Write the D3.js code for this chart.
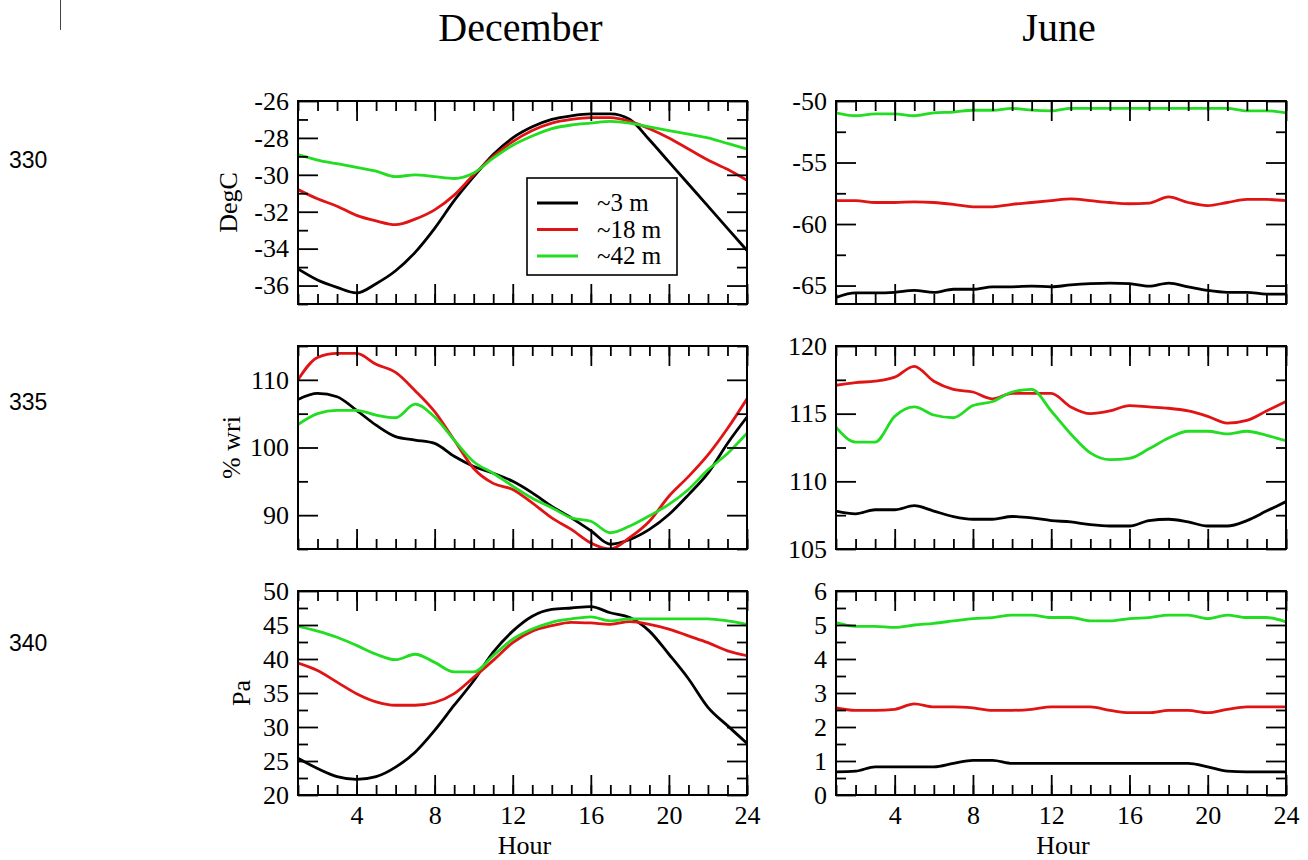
<!DOCTYPE html>
<html><head><meta charset="utf-8">
<script src="https://cdn.jsdelivr.net/npm/d3@7"></script>
<style>
html,body{margin:0;padding:0;background:#fff;}
svg{display:block;}
svg text{font-family:'Liberation Serif','Times New Roman',serif;}
</style></head><body>
<svg id="chart" width="1308" height="860"></svg>
<script>
// ---------------- DATA ----------------
const hours = [1,2,3,4,5,6,7,8,9,10,11,12,13,14,15,16,17,18,19,20,21,22,23,24];
const hourTicks = [4,8,12,16,20,24];
const seriesNames = ["~3 m", "~18 m", "~42 m"];
const columnTitles = ["December", "June"];
const rowLabels = ["DegC", "% wri", "Pa"];
const marginNumbers = ["330", "335", "340"];

// December temperature (DegC)
const decTemp3  = [-35.1,-35.7,-36.1,-36.4,-35.9,-35.2,-34.2,-32.9,-31.4,-30.1,-28.9,-28.0,-27.4,-27.0,-26.8,-26.7,-26.7,-27.0,-28.1,-29.3,-30.5,-31.7,-32.9,-34.1];
const decTemp18 = [-30.8,-31.3,-31.7,-32.2,-32.5,-32.7,-32.4,-31.9,-31.1,-30.0,-29.0,-28.2,-27.6,-27.2,-27.0,-26.9,-26.9,-27.1,-27.5,-28.0,-28.6,-29.2,-29.7,-30.3];
const decTemp42 = [-28.9,-29.2,-29.4,-29.6,-29.8,-30.1,-30.0,-30.1,-30.2,-29.9,-29.1,-28.4,-27.9,-27.5,-27.3,-27.2,-27.1,-27.2,-27.4,-27.6,-27.8,-28.0,-28.3,-28.6];
// June temperature (DegC)
const junTemp3  = [-65.96,-65.6,-65.6,-65.55,-65.4,-65.55,-65.3,-65.3,-65.1,-65.1,-65.05,-65.1,-64.95,-64.85,-64.8,-64.85,-65.05,-64.8,-65.1,-65.4,-65.55,-65.55,-65.7,-65.7];
const junTemp18 = [-58.1,-58.1,-58.25,-58.25,-58.2,-58.25,-58.4,-58.6,-58.6,-58.4,-58.25,-58.1,-57.95,-58.1,-58.25,-58.35,-58.3,-57.8,-58.25,-58.5,-58.25,-58.0,-58.0,-58.1];
const junTemp42 = [-50.96,-51.2,-51.05,-51.05,-51.2,-50.96,-50.9,-50.75,-50.75,-50.6,-50.75,-50.8,-50.6,-50.6,-50.6,-50.6,-50.6,-50.6,-50.6,-50.6,-50.6,-50.8,-50.8,-50.96];
// December relative humidity (% wri)
const decRh3  = [107.1,108.0,107.5,105.5,103.3,101.6,101.1,100.6,98.7,97.2,96.2,95.0,93.3,91.3,89.6,87.7,85.7,86.4,87.9,90.1,93.0,96.2,100.6,104.5];
const decRh18 = [110.0,113.3,113.9,113.9,112.3,111.1,108.4,105.3,101.1,96.9,94.7,93.8,91.8,89.6,87.9,85.9,85.0,86.7,89.1,92.8,95.7,98.9,102.8,107.2];
const decRh42 = [103.4,105.0,105.5,105.5,104.8,104.4,106.4,104.5,101.1,97.9,96.2,94.3,92.5,91.1,89.6,89.1,87.4,88.4,89.9,91.6,93.8,96.7,99.1,102.1];
// June relative humidity (% wri)
const junRh3  = [107.8,107.6,107.9,107.9,108.2,107.8,107.4,107.2,107.2,107.4,107.3,107.1,107.0,106.8,106.7,106.7,107.1,107.2,107.0,106.7,106.7,107.1,107.8,108.5];
const junRh18 = [117.1,117.3,117.4,117.7,118.5,117.4,116.8,116.6,116.1,116.5,116.5,116.5,115.5,115.0,115.2,115.6,115.5,115.4,115.2,114.8,114.3,114.5,115.2,115.9];
const junRh42 = [114.0,112.9,112.9,114.8,115.5,114.9,114.7,115.6,115.9,116.6,116.8,115.2,113.5,112.1,111.6,111.7,112.4,113.2,113.7,113.7,113.5,113.7,113.4,113.0];
// December vapour pressure (Pa)
const decPa3  = [25.4,23.9,22.7,22.3,22.7,24.1,26.3,29.5,33.2,36.8,41.0,44.1,46.3,47.3,47.5,47.7,46.8,46.1,44.1,40.7,37.1,32.9,30.2,27.6];
const decPa18 = [39.4,38.3,36.6,34.9,33.7,33.2,33.2,33.6,34.9,37.3,39.8,42.4,44.1,44.9,45.4,45.3,45.1,45.5,45.1,44.4,43.4,42.4,41.2,40.5];
const decPa42 = [44.8,44.1,43.2,42.0,40.7,39.9,40.7,39.5,38.1,38.1,40.5,42.9,44.4,45.4,45.9,46.2,45.6,45.9,45.9,45.9,45.9,45.9,45.6,45.1];
// June vapour pressure (Pa)
const junPa3  = [0.68,0.70,0.83,0.83,0.83,0.83,0.93,1.02,1.02,0.93,0.93,0.93,0.93,0.93,0.93,0.93,0.93,0.93,0.93,0.83,0.70,0.68,0.68,0.68];
const junPa18 = [2.56,2.49,2.49,2.52,2.68,2.59,2.59,2.56,2.49,2.49,2.52,2.59,2.59,2.59,2.49,2.42,2.42,2.49,2.49,2.42,2.52,2.59,2.59,2.59];
const junPa42 = [5.07,4.96,4.96,4.93,5.00,5.05,5.12,5.19,5.22,5.29,5.29,5.22,5.22,5.12,5.12,5.19,5.22,5.29,5.29,5.19,5.29,5.22,5.22,5.09];

// Axis domains and ticks
const decTempDomain = [-37, -26], decTempMajor = [-36,-34,-32,-30,-28,-26], decTempMinor = [-37,-35,-33,-31,-29,-27];
const junTempDomain = [-66.5, -50], junTempMajor = [-65,-60,-55,-50], junTempMinor = [-62.5,-57.5,-52.5];
const decRhDomain = [85, 115], decRhMajor = [90,100,110], decRhMinor = [85,95,105,115];
const junRhDomain = [105, 120], junRhMajor = [105,110,115,120], junRhMinor = [107.5,112.5,117.5];
const decPaDomain = [20, 50], decPaMajor = [20,25,30,35,40,45,50], decPaMinor = [22.5,27.5,32.5,37.5,42.5,47.5];
const junPaDomain = [0, 6], junPaMajor = [0,1,2,3,4,5,6], junPaMinor = [0.5,1.5,2.5,3.5,4.5,5.5];

// ---------------- LAYOUT ----------------
const colors = ["#000000", "#e01414", "#22dd22"];
const serif = "'Liberation Serif','Times New Roman',serif";
const colX = [[298, 747], [836, 1286]];
const rowY = [[101, 304], [346, 549], [591, 795]];

const panels = [
  {r:0,c:0, domain:decTempDomain, major:decTempMajor, minor:decTempMinor, data:[decTemp3,decTemp18,decTemp42]},
  {r:0,c:1, domain:junTempDomain, major:junTempMajor, minor:junTempMinor, data:[junTemp3,junTemp18,junTemp42]},
  {r:1,c:0, domain:decRhDomain,   major:decRhMajor,   minor:decRhMinor,   data:[decRh3,decRh18,decRh42]},
  {r:1,c:1, domain:junRhDomain,   major:junRhMajor,   minor:junRhMinor,   data:[junRh3,junRh18,junRh42]},
  {r:2,c:0, domain:decPaDomain,   major:decPaMajor,   minor:decPaMinor,   data:[decPa3,decPa18,decPa42]},
  {r:2,c:1, domain:junPaDomain,   major:junPaMajor,   minor:junPaMinor,   data:[junPa3,junPa18,junPa42]},
];

const svg = d3.select("#chart");
svg.append("rect").attr("width",1308).attr("height",860).attr("fill","#fff");

// artefacts on the left margin
svg.append("line").attr("x1",60.5).attr("x2",60.5).attr("y1",0).attr("y2",30)
  .attr("stroke","#444").attr("stroke-width",1);
const marginY = [168, 410, 651];
marginNumbers.forEach((t,i) => {
  svg.append("text").attr("x",9).attr("y",marginY[i]).text(t)
    .style("font-family","'Liberation Sans',Arial,sans-serif").style("font-size","23px").attr("fill","#000");
});

// column titles
columnTitles.forEach((t,i) => {
  svg.append("text").attr("x",(colX[i][0]+colX[i][1])/2 - 2).attr("y",41).attr("text-anchor","middle")
    .style("font-family",serif).style("font-size","40px").text(t);
});

const fmt = d => String(d);

function styleAxis(g, showText) {
  g.attr("font-family", null).attr("font-size", null);
  g.select(".domain").remove();
  g.selectAll(".tick line").attr("stroke","#000").attr("stroke-width",1.8);
  g.selectAll(".tick text").style("font-family",serif).style("font-size","26px").attr("fill","#000");
  if (!showText) g.selectAll(".tick text").remove();
}

const yLabelX = [237, 240, 250];

panels.forEach((p, idx) => {
  const [x0,x1] = colX[p.c], [y0,y1] = rowY[p.r];
  const w = x1-x0, h = y1-y0;
  const g = svg.append("g").attr("transform",`translate(${x0},${y0})`);
  const x = d3.scaleLinear().domain([1,24]).range([0,w]);
  const y = d3.scaleLinear().domain(p.domain).range([h,0]);

  const clipId = "clip"+idx;
  g.append("clipPath").attr("id",clipId).append("rect").attr("x",0).attr("y",-1).attr("width",w).attr("height",h+2);

  // lines
  const line = d3.line().curve(d3.curveMonotoneX).x((d,i)=>x(hours[i])).y(d=>y(d));
  p.data.forEach((s,i) => {
    g.append("path").datum(s).attr("d",line).attr("fill","none")
      .attr("stroke",colors[i]).attr("stroke-width",2.8).attr("stroke-linejoin","round")
      .attr("clip-path",`url(#${clipId})`);
  });

  // axes: bottom
  const showX = p.r === 2;
  g.append("g").attr("transform",`translate(0,${h})`)
    .call(d3.axisBottom(x).tickValues(hourTicks).tickSizeInner(-20).tickSizeOuter(0).tickPadding(11).tickFormat(fmt))
    .call(a=>styleAxis(a, showX));
  g.append("g").attr("transform",`translate(0,${h})`)
    .call(d3.axisBottom(x).tickValues(hours).tickSizeInner(-10).tickSizeOuter(0).tickFormat(""))
    .call(a=>styleAxis(a,false));
  // top
  g.append("g")
    .call(d3.axisTop(x).tickValues(hourTicks).tickSizeInner(-20).tickSizeOuter(0).tickFormat(""))
    .call(a=>styleAxis(a,false));
  g.append("g")
    .call(d3.axisTop(x).tickValues(hours).tickSizeInner(-10).tickSizeOuter(0).tickFormat(""))
    .call(a=>styleAxis(a,false));
  // left
  g.append("g")
    .call(d3.axisLeft(y).tickValues(p.major).tickSizeInner(-20).tickSizeOuter(0).tickPadding(9).tickFormat(fmt))
    .call(a=>styleAxis(a,true));
  g.append("g")
    .call(d3.axisLeft(y).tickValues(p.minor).tickSizeInner(-10).tickSizeOuter(0).tickFormat(""))
    .call(a=>styleAxis(a,false));
  // right
  g.append("g").attr("transform",`translate(${w},0)`)
    .call(d3.axisRight(y).tickValues(p.major).tickSizeInner(-20).tickSizeOuter(0).tickFormat(""))
    .call(a=>styleAxis(a,false));
  g.append("g").attr("transform",`translate(${w},0)`)
    .call(d3.axisRight(y).tickValues(p.minor).tickSizeInner(-10).tickSizeOuter(0).tickFormat(""))
    .call(a=>styleAxis(a,false));

  // frame
  g.append("rect").attr("x",0).attr("y",0).attr("width",w).attr("height",h)
    .attr("fill","none").attr("stroke","#000").attr("stroke-width",2);

  // y label (left column only)
  if (p.c === 0) {
    svg.append("text")
      .attr("transform",`translate(${yLabelX[p.r]},${(y0+y1)/2}) rotate(-90)`)
      .attr("text-anchor","middle").style("font-family",serif).style("font-size","26px")
      .text(rowLabels[p.r]);
  }
  // x label
  if (showX) {
    svg.append("text").attr("x",(x0+x1)/2 + 2).attr("y",854).attr("text-anchor","middle")
      .style("font-family",serif).style("font-size","26px").text("Hour");
  }

  // legend in first panel
  if (idx === 0) {
    const lg = g.append("g").attr("transform","translate(229,77)");
    lg.append("rect").attr("x",0).attr("y",0).attr("width",150).attr("height",97)
      .attr("fill","#fff").attr("stroke","#000").attr("stroke-width",1.6);
    seriesNames.forEach((n,i) => {
      const yy = 25 + i*26.5;
      lg.append("line").attr("x1",10).attr("x2",51).attr("y1",yy).attr("y2",yy)
        .attr("stroke",colors[i]).attr("stroke-width",2.8);
      lg.append("text").attr("x",70).attr("y",yy+8).style("font-family",serif)
        .style("font-size","25px").text(n);
    });
  }
});
</script>
</body></html>
